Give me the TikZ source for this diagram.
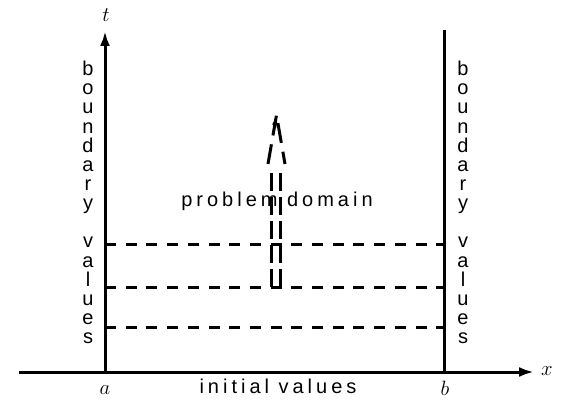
\documentclass[tikz,border=0pt]{standalone}
\usepackage{fontspec}
\setsansfont{Liberation Sans}
\usetikzlibrary{arrows.meta}
\begin{document}
\begin{tikzpicture}[x=1pt,y=-1pt,
  axis/.style={line width=3pt,black},
  grid/.style={line width=3pt,dash pattern=on 11pt off 9.7pt},
  lbl/.style={font=\sffamily\fontsize{20}{21}\selectfont\addfontfeature{LetterSpace=20},inner sep=0pt},
  col/.style={font=\sffamily\fontsize{20}{19.14}\selectfont,align=center,inner sep=0pt},
  mlbl/.style={font=\fontsize{22}{24}\selectfont,inner sep=0pt},
  tip/.style={-{Latex[length=15pt,width=10pt]}}]
\useasboundingbox (0,0) rectangle (562,401);
% coordinates
\coordinate (xs) at (19,372);
\coordinate (xe) at (534,372);
\coordinate (as) at (105,373.5);
\coordinate (ae) at (105,31);
\coordinate (bs) at (444,373.5);
\coordinate (be) at (444,30);
% axes
\draw[axis,tip] (xs) -- (xe);
\draw[axis,tip] (as) -- (ae);
\draw[axis] (bs) -- (be);
% dashed horizontal lines
\foreach \y/\n in {244/g1,287/g2,327/g3}{
  \coordinate (\n l) at (105,\y);
  \coordinate (\n r) at (444,\y);
  \draw[grid] (\n l) -- (\n r);
}
% double dashed arrow
\coordinate (p1) at (271,287);
\coordinate (p2) at (271,172);
\coordinate (q1) at (280,287);
\coordinate (q2) at (280,172);
\coordinate (h1) at (268,164);
\coordinate (ht) at (276.5,115);
\coordinate (h2) at (285,164);
\draw[line width=3pt,dash pattern=on 18pt off 6pt] (p1) -- (p2);
\draw[line width=3pt,dash pattern=on 18pt off 6pt] (q1) -- (q2);
\draw[line width=3pt,dash pattern=on 20pt off 9pt,line join=miter] (h1) -- (ht) -- (h2);
\draw[line width=3pt,-{Latex[length=10pt,width=6pt]}] (274.5,128) -- (ht);
% labels
\node[lbl] (pd) at (277,201) {problem domain};
\node[lbl] (iv) at (278,386) {initial values};
\node[col] (lc) at (88,202.5) {b\\o\\u\\n\\d\\a\\r\\y\\[19.14pt]v\\a\\l\\u\\e\\s};
\node[col] (rc) at (463,202.5) {b\\o\\u\\n\\d\\a\\r\\y\\[19.14pt]v\\a\\l\\u\\e\\s};
\node[mlbl] (t) at (106,15) {$t$};
\node[mlbl] (x) at (547,371) {$x$};
\node[mlbl] (a) at (105,390) {$a$};
\node[mlbl] (b) at (445,388) {$b$};
\end{tikzpicture}
\end{document}
